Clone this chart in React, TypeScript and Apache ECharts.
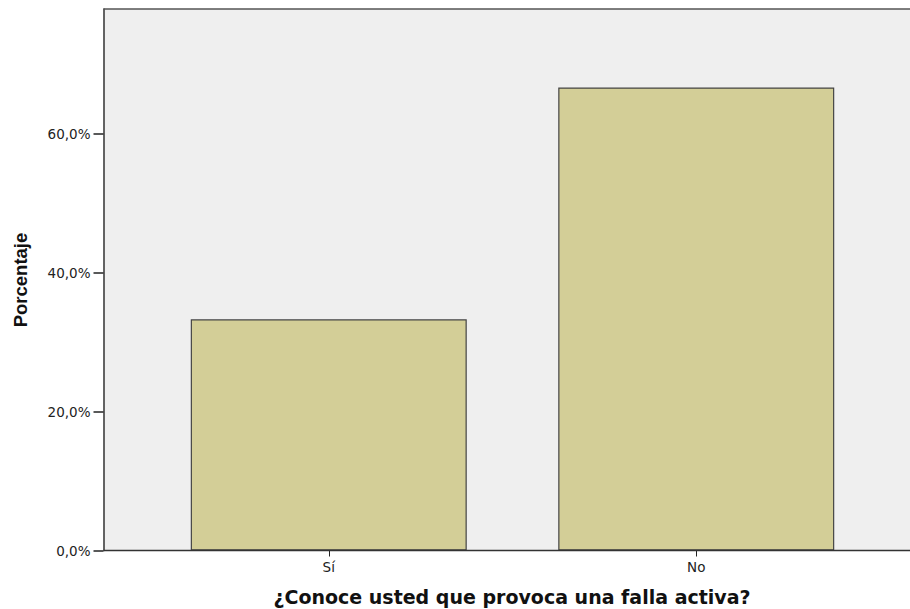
import React, { useEffect, useRef } from "react";
import * as echarts from "echarts";

const categories = ["Sí", "No"];
const percentages = [33.3, 66.7];
const yTicks = [0, 20, 40, 60];
const xTitle = "¿Conoce usted que provoca una falla activa?";
const yTitle = "Porcentaje";

export default function App() {
  const ref = useRef<HTMLDivElement>(null);
  useEffect(() => {
    if (!ref.current) return;
    const chart = echarts.init(ref.current, null, { renderer: "svg" });
    const plotLeft = 103.5;
    const plotTop = 9;
    const plotBottom = 550.5;
    const plotRight = 912;
    chart.setOption({
      animation: false,
      backgroundColor: "#ffffff",
      grid: { left: 145, right: 30, top: plotTop, bottom: 609 - plotBottom, containLabel: false },
      xAxis: {
        type: "category",
        data: categories,
        boundaryGap: true,
        axisLine: { show: false },
        axisTick: { show: true, alignWithLabel: true, length: 6, lineStyle: { color: "#222", width: 1 } },
        axisLabel: { fontFamily: "DejaVu Sans", fontSize: 13.5, color: "#222", margin: 9 },
        splitLine: { show: false },
      },
      yAxis: {
        type: "value",
        min: 0,
        max: 78,
        interval: 20,
        offset: 145 - plotLeft,
        axisLine: { show: true, lineStyle: { color: "#333", width: 1.5 } },
        axisTick: { show: true, length: 10, customValues: yTicks, lineStyle: { color: "#222", width: 1.5 } },
        axisLabel: {
          fontFamily: "DejaVu Sans",
          fontSize: 13.5,
          color: "#222",
          margin: 13,
          customValues: yTicks,
          formatter: (v: number) => v.toFixed(1).replace(".", ",") + "%",
        },
        splitLine: { show: false },
      },
      graphic: [
        {
          type: "rect",
          z: -10,
          silent: true,
          shape: { x: plotLeft, y: plotTop, width: plotRight - plotLeft, height: plotBottom - plotTop },
          style: { fill: "#efefef" },
        },
        {
          type: "line",
          z: 100,
          silent: true,
          shape: { x1: plotLeft, y1: plotTop, x2: plotRight, y2: plotTop },
          style: { stroke: "#555", lineWidth: 1.5 },
        },
        {
          type: "line",
          z: 100,
          silent: true,
          shape: { x1: plotLeft, y1: plotBottom, x2: plotRight, y2: plotBottom },
          style: { stroke: "#333", lineWidth: 1.5 },
        },
        {
          type: "text",
          z: 100,
          x: 512,
          y: 597,
          style: {
            text: xTitle,
            fontFamily: "DejaVu Sans",
            fontWeight: "bold",
            fontSize: 19,
            fill: "#111",
            textAlign: "center",
            textVerticalAlign: "middle",
          },
        },
        {
          type: "text",
          z: 100,
          x: 20,
          y: 280,
          rotation: Math.PI / 2,
          style: {
            text: yTitle,
            fontFamily: "Liberation Sans",
            fontWeight: "bold",
            fontSize: 18.5,
            fill: "#111",
            textAlign: "center",
            textVerticalAlign: "middle",
          },
        },
      ],
      series: [
        {
          type: "bar",
          data: percentages,
          barWidth: 276,
          itemStyle: { color: "#d3ce97", borderColor: "#444", borderWidth: 1.2 },
        },
      ],
    });
    return () => chart.dispose();
  }, []);
  return <div ref={ref} style={{ width: 910, height: 609, position: "absolute", left: 0, top: 0 }} />;
}
